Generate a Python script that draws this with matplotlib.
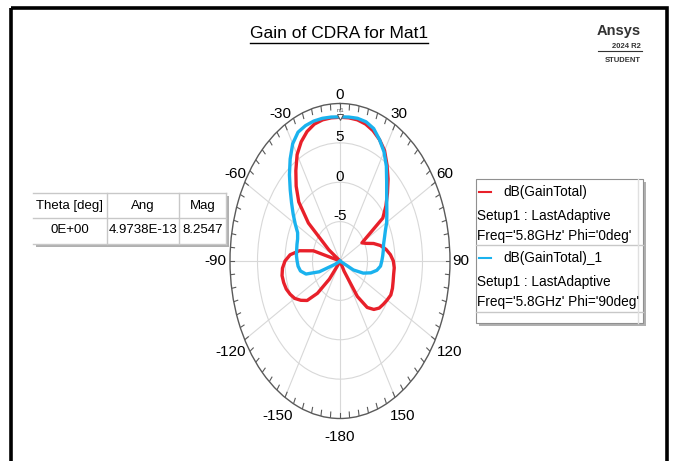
import numpy as np
import matplotlib
matplotlib.use("Agg")
import matplotlib.pyplot as plt
from matplotlib.patches import Rectangle
from matplotlib.lines import Line2D

# ---- data -------------------------------------------------------------
theta_deg = list(range(-180, 185, 5))

# dB(GainTotal), Phi = 0 deg   (values at or below -10 sit at the plot centre)
gain_phi0 = [
    -10, -10, -10, -10, -10, -10, -10, -9.5, -7.0, -4.2,      # -180 .. -135
    -2.2, -1.3, -0.5, 0.0, 0.4, 0.6, 0.7, 0.5, 0.0, -0.9,     # -130 .. -85
    -2.5, -5.0, -10, -10, -10, -7.5, -2.5, 0.6, 2.4, 4.0,     # -80 .. -35
    5.6, 6.7, 7.5, 8.0, 8.2, 8.25, 8.25, 8.25, 8.2, 8.0,      # -30 .. 15
    7.6, 7.0, 6.2, 4.9, 3.6, 2.2, 0.9, -0.5, -5.4, -4.7,      # 20 .. 65
    -3.5, -2.4, -1.5, -0.8, -0.3, -0.1, -0.1, 0.0, 0.15, 0.2,  # 70 .. 115
    -0.1, -0.4, -0.7, -1.3, -2.3, -4.5, -8.5, -10, -10, -10,  # 120 .. 165
    -10, -10, -10,                                            # 170 .. 180
]

# dB(GainTotal)_1, Phi = 90 deg
gain_phi90 = [
    -10, -10, -10, -10, -10, -10, -10, -10, -10, -10,         # -180 .. -135
    -10, -10, -10, -9.0, -6.0, -3.6, -2.7, -2.35, -2.2, -2.05,  # -130 .. -85
    -2.0, -1.9, -1.8, -1.5, -0.6, 0.4, 1.5, 2.8, 4.3, 5.8,    # -80 .. -35
    7.2, 8.05, 8.3, 8.4, 8.4, 8.35, 8.3, 8.35, 8.4, 8.3,      # -30 .. 15
    7.9, 7.0, 6.0, 4.7, 3.2, 2.0, 1.1, 0.4, -0.2, -0.9,       # 20 .. 65
    -1.4, -1.8, -2.0, -2.2, -2.4, -2.6, -3.2, -4.2, -5.5, -7.3,  # 70 .. 115
    -10, -10, -10, -10, -10, -10, -10, -10, -10, -10,         # 120 .. 165
    -10, -10, -10,                                            # 170 .. 180
]

angle_ticks = [0, 30, 60, 90, 120, 150, 180, -150, -120, -90, -60, -30]
angle_labels = ["0", "30", "60", "90", "120", "150", "-180",
                "-150", "-120", "-90", "-60", "-30"]
radial_ticks = [-5, 0, 5]
r_min, r_max = -10, 10

marker_theta, marker_ang, marker_mag = "0E+00", "4.9738E-13", "8.2547"

legend_entries = [
    ("dB(GainTotal)", "Setup1 : LastAdaptive", "Freq='5.8GHz' Phi='0deg'"),
    ("dB(GainTotal)_1", "Setup1 : LastAdaptive", "Freq='5.8GHz' Phi='90deg'"),
]

RED = "#e8202a"
BLUE = "#1ab2ee"
FONT = ["Liberation Sans", "DejaVu Sans"]

# ---- figure -----------------------------------------------------------
W, H = 677, 461
fig = plt.figure(figsize=(W / 100, H / 100), dpi=100)
fig.patch.set_facecolor("white")

# overlay in pixel coordinates for frame, title, table and legend
ov = fig.add_axes([0, 0, 1, 1])
ov.set_xlim(0, W)
ov.set_ylim(H, 0)
ov.axis("off")

ov.add_patch(Rectangle((11, 8), 656, 480, fill=False, ec="black", lw=2.6))

title = ov.text(339, 33, "Gain of CDRA for Mat1", ha="center", va="center",
                fontsize=12.5, family=FONT)
fig.canvas.draw()
bb = title.get_window_extent()
ov.add_line(Line2D([bb.x0, bb.x1], [43, 43], color="black", lw=1.0))

# product badge
ov.text(641, 31, "Ansys", ha="right", va="center", fontsize=10.5,
        fontweight="bold", family=FONT, color="#333333")
ov.text(641, 46, "2024 R2", ha="right", va="center", fontsize=5.5,
        fontweight="bold", family=FONT, color="#333333")
ov.add_line(Line2D([598, 642], [51, 51], color="#333333", lw=0.8))
ov.text(641, 61, "STUDENT", ha="right", va="center", fontsize=5.5,
        fontweight="bold", family=FONT, color="#333333")

# marker table
sh = "#b0b0b0"
ov.add_patch(Rectangle((36, 196), 193, 51, fc=sh, ec="none"))
ov.add_patch(Rectangle((33, 193), 193, 51, fc="white", ec="none"))
for y in (193, 218, 244):
    ov.add_line(Line2D([33, 226], [y, y], color="#c8c8c8", lw=1))
for x in (107, 179, 226):
    ov.add_line(Line2D([x, x], [193, 244], color="#c8c8c8", lw=1))
for cx, head, val in ((70, "Theta [deg]", marker_theta), (143, "Ang", marker_ang),
                      (203, "Mag", marker_mag)):
    ov.text(cx, 206, head, ha="center", va="center", fontsize=9.5, family=FONT)
    ov.text(cx, 230, val, ha="center", va="center", fontsize=9.5, family=FONT)

# legend box
ov.add_patch(Rectangle((479, 182), 167, 144, fc=sh, ec="none"))
ov.add_patch(Rectangle((476, 179), 167, 144, fc="white", ec="#909090", lw=0.8))
for y in (245, 312):
    ov.add_line(Line2D([476, 643], [y, y], color="#c8c8c8", lw=1))
ov.add_line(Line2D([638, 638], [179, 323], color="#e0e0e0", lw=1))
for (name, setup, freq), col, y0 in zip(legend_entries, (RED, BLUE), (192, 258)):
    ov.add_line(Line2D([479, 491], [y0, y0], color=col, lw=1.5))
    ov.text(503, y0, name, ha="left", va="center", fontsize=9.8, family=FONT)
    ov.text(477, y0 + 24, setup, ha="left", va="center", fontsize=9.8, family=FONT)
    ov.text(477, y0 + 44, freq, ha="left", va="center", fontsize=9.8, family=FONT)

# ---- polar chart (elliptical, as drawn by the solver) -----------------
cx_px, cy_px, rx_px, ry_px = 340, 261, 110, 157.5
pax = fig.add_axes([(cx_px - rx_px) / W, (H - cy_px - ry_px) / H,
                    2 * rx_px / W, 2 * ry_px / H], projection="polar")
pax.set_aspect("auto")
pax.set_theta_zero_location("N")
pax.set_theta_direction(-1)
pax.set_ylim(r_min, r_max)
pax.set_thetagrids(list(range(0, 360, 30)), labels=[])
pax.set_rgrids(radial_ticks, labels=[])
pax.grid(True, color="#d8d8d8", lw=0.8)
pax.spines["polar"].set_color("#5a5a5a")
pax.spines["polar"].set_linewidth(1.0)
pax.tick_params(axis="both", length=0)
pax.patch.set_facecolor("white")

# minor ticks on the rim every 5 degrees
for a in range(0, 360, 5):
    t = np.deg2rad(a)
    pax.plot([t, t], [r_max, r_max - 0.75], color="#5a5a5a", lw=0.8)

th = np.deg2rad(theta_deg)
pax.plot(th, gain_phi0, color=RED, lw=2.4, solid_joinstyle="round")
pax.plot(th, gain_phi90, color=BLUE, lw=2.4, solid_joinstyle="round")

# marker m1
pax.plot([0], [float(marker_mag)], marker="v", ms=4, mfc="white",
         mec="#555555", mew=0.7, ls="none")
pax.text(0, float(marker_mag) + 0.9, "m1", ha="center", va="center",
         fontsize=4, family=FONT, color="#555555")

# angle labels outside the rim
label_frac = {0: 1.055, 30: 1.08, -30: 1.08, 60: 1.10, -60: 1.10, 90: 1.10,
              -90: 1.13, 120: 1.15, -120: 1.15, 150: 1.14, -150: 1.14, 180: 1.115}
for a, lab in zip(angle_ticks, angle_labels):
    f = label_frac[a]
    pax.text(np.deg2rad(a), r_min + (r_max - r_min) * f, lab, ha="center",
             va="center", fontsize=11, family=FONT, clip_on=False)

# radial labels along 0 deg
for r in radial_ticks:
    pax.text(0, r + 0.7, str(r), ha="center", va="center", fontsize=11,
             family=FONT)

fig.savefig("out.png", dpi=100, facecolor="white")
